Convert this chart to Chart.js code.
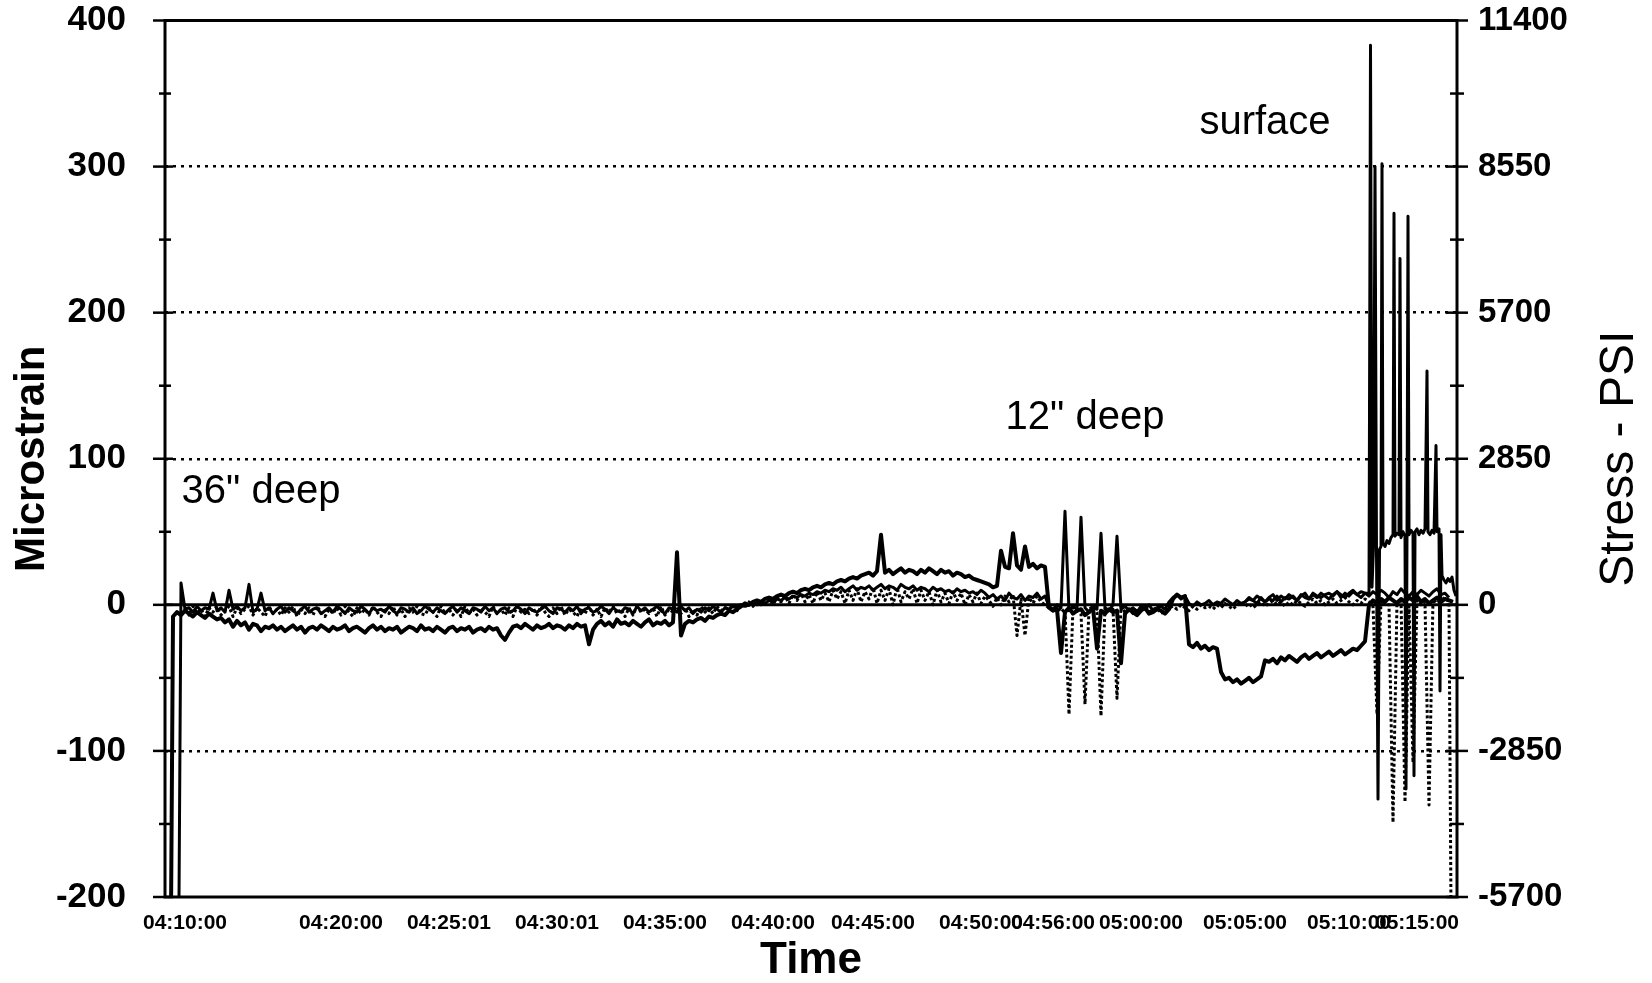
<!DOCTYPE html>
<html>
<head>
<meta charset="utf-8">
<style>
html,body{margin:0;padding:0;background:#fff;}
#wrap{width:1652px;height:983px;position:relative;}
</style>
<script src="https://cdn.jsdelivr.net/npm/chart.js@4.4.1/dist/chart.umd.min.js"></script>
</head>
<body>
<div id="wrap"><canvas id="c" width="1652" height="983"></canvas></div>
<script>
// ---- tick labels (sample numbers where the logger printed a time stamp) ----
const xTickSamples = [5, 44, 71, 98, 125, 152, 177, 204, 222, 244, 270, 296, 313];
const xTickLabels = ['04:10:00','04:20:00','04:25:01','04:30:01','04:35:00','04:40:00',
  '04:45:00','04:50:00','04:56:00','05:00:00','05:05:00','05:10:00','05:15:00'];
const sampleCount = 323;
const strainMin = -200, strainMax = 400, strainStep = 50;
const stressMin = -5700, stressMax = 11400, stressStep = 1425;

// ---- readings (microstrain), one value per sample, starting at the given sample ----
const gaugeAStart = 1;
const gaugeA = [-420,
 -8,-5,-7,-4,-6,-8,-5,-7,-9,-6,-8,-10,-9,-12,-10,-15,-11,-14,-12,-17,-13,-14,-18,-15,
 -16,-14,-17,-15,-18,-16,-14,-17,-15,-19,
 -16,-15,-17,-14,-16,-18,-15,-17,-16,-14,
 -18,-16,-15,-17,-19,-16,-14,-17,-15,-18,
 -16,-17,-15,-19,-17,-15,-16,-18,-14,-17,
 -16,-18,-15,-17,-19,-16,-15,-18,-16,-17,
 -15,-19,-17,-16,-18,-15,-17,-16,
 -21,-24,-19,
 -15,-14,-16,-13,-15,-17,-14,-16,-15,-13,-16,-14,-15,-17,-14,-16,-13,-15,-14,
 -27,-17,
 -13,-11,-14,-12,-15,-10,-13,-12,-14,-11,-13,-15,-12,-10,-14,-12,-13,-11,-14,-12,
 36,-21,
 -13,-11,-12,-10,-9,-11,-8,-9,-7,-6,-7,-4,-5,-3,-1,
 1,0,2,3,2,4,5,4,6,7,6,8,9,8,10,11,10,12,13,12,14,15,14,16,17,16,18,19,18,20,
 21,22,20,23,48,22,24,21,23,25,22,24,23,21,24,22,25,23,21,24,22,23,20,22,21,19,20,18,17,16,15,
 14,12,13,
 37,26,25,49,27,24,40,26,28,25,27,26,
 -2,
 -4,-3,-33,-5,-2,-6,-4,-3,-7,-5,-2,-30,-4,-6,-3,-5,-4,-40,-6,-3,-5,-7,-4,-2,-6,-5,-3,-4,-6,-3,
 4,7,5,6,
 -27,-29,-26,-30,-28,-31,-29,-30,
 -46,-51,
 -50,-53,-51,-54,-52,-50,-53,-51,-49,
 -38,
 -39,-37,-40,-36,-38,-35,-37,-39,-36,-34,-37,-35,-33,-36,-34,-32,-35,-33,-31,-34,-32,-30,-31,-28,-25,
 0,
 3,1,4,2,5,3,1,4,2,5,3,6,2,4,1,3,5,2,4,3,2];

const gaugeBStart = 3;
const gaugeB = [-420, 15,
 -3,-2,-5,-1,-4,-2,-3,8,-4,-2,
 -5,10,-3,-1,-4,-2,14,-5,-3,8,
 -4,-2,-6,-3,-1,-5,-2,-4,-6,-3,
 -1,-5,-3,-2,-6,-4,-2,-5,-1,-3,
 -6,-2,-4,-5,-1,-3,-6,-2,-4,-3,
 -5,-1,-4,-6,-2,-3,-5,-2,-6,-4,
 -1,-3,-5,-2,-4,-6,-3,-1,-5,-2,
 -4,-6,-2,-3,-5,-1,-4,-2,-6,-3,
 -2,-5,-4,-1,-3,-6,-2,-4,-5,-3,
 -1,-4,-6,-2,-3,-5,-2,-4,-1,-6,
 -3,-2,-5,-4,-1,-3,-6,-2,-4,-5,
 -2,-3,-6,-1,-4,-2,-5,-3,-1,-4,
 -6,-2,-3,-5,-1,-4,-2,-6,-3,-5,
 -2,-4,-1,-3,-5,-2,
 -3,-1,-2,0,-1,
 0,1,0,2,1,3,2,4,3,5,
 4,6,5,7,6,8,7,9,8,10,
 9,11,10,12,9,11,13,10,12,11,
 13,10,12,14,11,13,12,10,14,12,
 11,13,10,12,11,9,12,10,11,9,
 10,8,11,9,10,8,9,7,10,8,
 5,7,4,6,3,8,5,4,7,3,6,5,8,4,6,
 -1,-3,0,-2,64,-4,-1,-3,60,-2,
 -5,-1,-3,49,-2,-4,0,47,-3,-1,
 -4,-2,-5,-1,-3,0,-4,-2,-1,-3,
 2,5,7,4,6,1,-1,2,0,1,
 3,0,2,1,4,2,0,3,1,2,
 4,3,1,5,2,4,3,6,2,5,
 4,6,3,7,5,4,8,6,5,7,
 8,6,9,7,5,8,10,7,9,8,
 6,9,7,10,8,5,9,7,11,8,
 6,9,7,10,8,6,9,11,7,8,5];

// surface gauge: slow readings first, then a fast burst (fractional sample positions)
const gaugeCSamples = [
 270,271,272,273,274,275,276,277,278,279,280,281,282,283,284,285,286,287,288,289,
 290,291,292,293,294,295,296,297,298,299,300,
 301,301.375,301.75,302.125,302.5,302.875,303.25,303.625,304,304.25,304.5,305,305.5,
 306,306.5,307,307.25,307.5,308,308.5,308.75,309,309.5,310,310.25,310.5,310.75,311,
 311.5,312,312.25,312.5,313,313.5,314,314.5,315,315.5,315.75,316.25,316.75,317.25,
 317.75,318,318.5,318.75,319,319.25,319.75,320.25,320.75,321.25,321.75,322.25,322.75];
const gaugeC = [
 2,5,3,6,4,2,5,7,3,6,4,7,5,3,6,8,4,7,5,8,
 6,4,7,9,5,8,6,9,7,5,8,
 8,383,12,40,300,36,-133,38,40,302,42,40,44,
 42,46,48,268,47,49,48,237,46,50,47,-126,49,266,48,
 51,49,-117,50,52,48,51,49,52,160,50,48,51,49,
 109,50,52,-59,48,20,17,15,18,16,19,10,6];

const gaugeDStart = 5;
const gaugeD = [
 -2,-7,-1,-6,-3,-8,-2,-5,-1,-7,
 -4,-1,-8,-2,-6,-3,-1,-7,-2,-5,
 -8,-1,-6,-3,-7,-2,-5,-1,-8,-3,
 -6,-2,-7,-1,-5,-8,-3,-6,-2,-7,
 -1,-5,-8,-2,-6,-3,-7,-1,-5,-8,
 -2,-6,-1,-7,-3,-8,-2,-5,-1,-6,
 -7,-2,-5,-8,-1,-6,-3,-7,-2,-8,
 -1,-6,-3,-7,-2,-5,-8,-1,-6,-3,
 -7,-2,-8,-1,-5,-3,-6,-2,-7,-1,
 -5,-8,-2,-6,-1,-7,-3,-5,-8,-2,
 -6,-1,-7,-3,-8,-2,-5,-1,-6,-3,
 -8,-2,-7,-1,-5,-3,-6,-2,-8,-1,
 -7,-3,-5,-1,-6,-2,-8,-3,-7,-1,
 -5,-2,-6,-1,-4,-2,
 -3,0,-4,1,-2,2,-1,3,0,
 1,4,0,5,2,6,1,7,3,8,
 2,7,1,9,3,8,2,10,4,9,
 1,10,3,11,2,9,4,12,1,10,
 3,11,0,12,2,9,4,11,1,10,
 3,9,0,10,2,8,1,9,3,8,
 0,7,2,8,1,6,
 3,-1,5,0,6,2,7,-21,4,-21,5,1,6,2,0,
 -2,-4,-1,-5,-3,-75,-2,-4,-6,-68,
 -3,-1,-5,-76,-2,-4,-3,-64,-1,-5,
 -3,-6,-2,-4,-1,-5,-3,-2,-6,-4,
 -2,-1,-3,0,-2,-4,-1,-3,0,-2,
 -1,-3,0,-2,1,-1,-3,0,2,-1,
 1,-2,0,2,-1,1,3,0,2,-1,
 2,0,3,1,-1,2,4,1,3,0,
 2,4,1,3,5,2,0,3,1,4,
 2,-1,-75,3,1,0,-149,2,4,-135,
 1,-108,3,0,2,-137,4,1,3,5,2,-420];

// ---- text notes placed in data coordinates ----
const noteTexts = ['36" deep', '12" deep', 'surface'];
const noteSamples = [24, 230, 275];
const noteValues = [77, 128, 330];

// ---------------------------------------------------------------------------
const FONT = "'Liberation Sans', Arial, Helvetica, sans-serif";
const toPoints = (start, arr) => arr.map((v, i) => ({x: start + i, y: v}));
const zipPoints = (xs, ys) => ys.map((v, i) => ({x: xs[i], y: v}));

const framePlugin = {
  id: 'frame',
  afterDatasetsDraw(chart) {
    const {ctx, chartArea: a, scales} = chart;
    const y = scales.y, y2 = scales.y2;
    ctx.save();
    ctx.setLineDash([]);
    ctx.strokeStyle = '#000';
    ctx.lineWidth = 3;
    const y0 = y.getPixelForValue(0);
    ctx.beginPath(); ctx.moveTo(a.left, y0); ctx.lineTo(a.right, y0); ctx.stroke();
    ctx.strokeRect(a.left, a.top, a.right - a.left, a.bottom - a.top);
    ctx.lineWidth = 2.5;
    y.ticks.forEach(t => {
      const p = y.getPixelForValue(t.value);
      const major = t.value % 100 === 0;
      ctx.beginPath();
      ctx.moveTo(a.left - (major ? 12 : 6), p);
      ctx.lineTo(a.left + (major ? 8 : 6), p);
      ctx.stroke();
    });
    y2.ticks.forEach(t => {
      const p = y2.getPixelForValue(t.value);
      const major = t.value % 2850 === 0;
      ctx.beginPath();
      ctx.moveTo(a.right - (major ? 11 : 7), p);
      ctx.lineTo(a.right + (major ? 11 : 7), p);
      ctx.stroke();
    });
    ctx.restore();
  },
  afterDraw(chart) {
    const {ctx, chartArea: a, scales} = chart;
    ctx.save();
    ctx.fillStyle = '#000';
    ctx.font = "40px " + FONT;
    ctx.textAlign = 'center';
    ctx.textBaseline = 'middle';
    noteTexts.forEach((t, i) => {
      ctx.fillText(t, scales.x.getPixelForValue(noteSamples[i]), scales.y.getPixelForValue(noteValues[i]));
    });
    // right axis title, read bottom-to-top
    ctx.font = "48px " + FONT;
    ctx.translate(scales.y2.right - 32, (a.top + a.bottom) / 2);
    ctx.rotate(-Math.PI / 2);
    ctx.fillText('Stress - PSI', 0, 0);
    ctx.restore();
  }
};

const lineSet = (label, pts, width, dash) => ({
  label, data: pts, borderColor: '#000', backgroundColor: '#000',
  borderWidth: width, borderDash: dash || [], pointRadius: 0, tension: 0,
  fill: false, borderJoinStyle: 'round'
});

new Chart(document.getElementById('c'), {
  type: 'line',
  data: {
    datasets: [
      lineSet('gauge D', toPoints(gaugeDStart, gaugeD), 3, [3, 2.5]),
      lineSet('gauge B', toPoints(gaugeBStart, gaugeB), 3),
      lineSet('gauge A', toPoints(gaugeAStart, gaugeA), 4),
      lineSet('gauge C', zipPoints(gaugeCSamples, gaugeC), 3)
    ]
  },
  options: {
    responsive: false,
    animation: false,
    devicePixelRatio: 1,
    layout: {padding: {top: 19, left: 0, right: 0, bottom: 0}},
    plugins: {legend: {display: false}, tooltip: {enabled: false}},
    scales: {
      x: {
        type: 'linear', position: 'bottom', min: 0, max: sampleCount,
        afterBuildTicks: s => { s.ticks = xTickSamples.map(v => ({value: v})); },
        afterFit: s => { s.height = 86; },
        grid: {display: false, drawTicks: false},
        border: {display: false},
        ticks: {
          autoSkip: false, maxRotation: 0, minRotation: 0, padding: 16, color: '#000',
          font: {family: FONT, size: 21, weight: 'bold', lineHeight: 1},
          callback: (v, i) => xTickLabels[i]
        },
        title: {display: true, text: 'Time', color: '#000', padding: {top: 0, bottom: 0},
          font: {family: FONT, size: 44, weight: 'bold', lineHeight: 1}}
      },
      y: {
        type: 'linear', position: 'left', min: strainMin, max: strainMax,
        afterFit: s => { s.width = 165; },
        grid: {
          drawTicks: true, tickLength: 36, tickColor: 'rgba(0,0,0,0)', lineWidth: 2.5,
          color: c => {
            const v = c.tick.value;
            return (v % 100 === 0 && v !== 0 && v !== strainMax && v !== strainMin) ? '#000' : 'rgba(0,0,0,0)';
          }
        },
        border: {display: false, dash: [3, 5]},
        ticks: {
          stepSize: strainStep, autoSkip: false, padding: 3, color: '#000',
          font: {family: FONT, size: 35, weight: 'bold', lineHeight: 1},
          callback: v => (v % 100 === 0 ? String(v) : '')
        },
        title: {display: true, text: 'Microstrain', color: '#000', padding: {top: 11, bottom: 0},
          font: {family: FONT, size: 42, weight: 'bold', lineHeight: 1}}
      },
      y2: {
        type: 'linear', position: 'right', min: stressMin, max: stressMax,
        afterFit: s => { s.width = 195; },
        grid: {drawOnChartArea: false, drawTicks: true, tickLength: 18, tickColor: 'rgba(0,0,0,0)'},
        border: {display: false},
        ticks: {
          stepSize: stressStep, autoSkip: false, padding: 3, color: '#000',
          font: {family: FONT, size: 33, weight: 'bold', lineHeight: 1},
          callback: v => (v % 2850 === 0 ? String(v) : '')
        }
      }
    }
  },
  plugins: [framePlugin]
});
</script>
</body>
</html>
